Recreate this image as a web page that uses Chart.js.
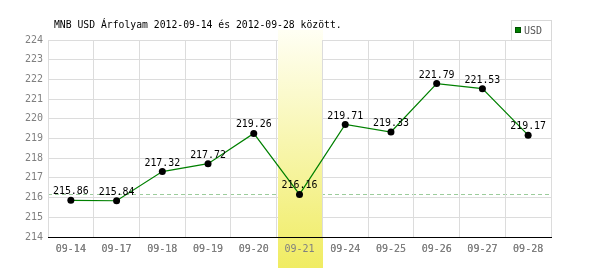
<!DOCTYPE html>
<html>
<head>
<meta charset="utf-8">
<script src="https://cdn.jsdelivr.net/npm/chart.js@4"></script>
<style>
  html, body { margin: 0; padding: 0; background: #fff; }
  #wrap { width: 600px; height: 270px; }
</style>
</head>
<body>
<div id="wrap"><canvas id="rateChart" width="600" height="270"></canvas></div>
<script>
// data
const dayLabels = ['09-14', '09-17', '09-18', '09-19', '09-20', '09-21', '09-24', '09-25', '09-26', '09-27', '09-28'];
const usdRates = [215.86, 215.84, 217.32, 217.72, 219.26, 216.16, 219.71, 219.33, 221.79, 221.53, 219.17];
const refLevel = 216.2;
const highlightIndex = 5;
const titleText = 'MNB USD Árfolyam 2012-09-14 és 2012-09-28 között.';
const seriesName = 'USD';

const tickFont = { family: 'DejaVu Sans Mono', size: 10 };

// band, dashed level line, value labels, title and legend box
const decorPlugin = {
    id: 'decor',
    beforeDatasetsDraw(chart) {
        const ctx = chart.ctx;
        const area = chart.chartArea;
        const x = chart.scales.x;
        const y = chart.scales.y;

        // dashed level line
        const ly = Math.round(y.getPixelForValue(refLevel)) + 0.5;
        ctx.save();
        ctx.strokeStyle = '#9ccc9c';
        ctx.lineWidth = 1;
        ctx.setLineDash([4, 3]);
        ctx.beginPath();
        ctx.moveTo(area.left, ly);
        ctx.lineTo(area.right, ly);
        ctx.stroke();
        ctx.restore();

        // highlighted day
        const half = (x.getPixelForValue(1) - x.getPixelForValue(0)) / 2;
        const cx = x.getPixelForValue(highlightIndex);
        const grad = ctx.createLinearGradient(0, 30, 0, 268);
        grad.addColorStop(0, '#fffff4');
        grad.addColorStop(1, '#f0ec62');
        ctx.save();
        ctx.fillStyle = grad;
        ctx.fillRect(Math.round(cx - half) + 1, 30, Math.round(2 * half) - 1, 238);
        ctx.restore();

        // put axis line and labels back on top of the band
        x.draw(area);
    },
    afterDatasetsDraw(chart) {
        const ctx = chart.ctx;
        const meta = chart.getDatasetMeta(0);
        ctx.save();
        ctx.fillStyle = '#000';
        ctx.font = '11px "DejaVu Sans Mono", monospace';
        ctx.textAlign = 'center';
        ctx.textBaseline = 'alphabetic';
        meta.data.forEach((pt, i) => {
            ctx.save();
            ctx.translate(pt.x, pt.y - 6);
            ctx.scale(0.9, 1);
            ctx.fillText(usdRates[i].toFixed(2), 0, 0);
            ctx.restore();
        });
        ctx.restore();
    },
    afterDraw(chart) {
        const ctx = chart.ctx;
        const area = chart.chartArea;

        // title
        ctx.save();
        ctx.fillStyle = '#000';
        ctx.font = '10px "DejaVu Sans Mono", monospace';
        ctx.textBaseline = 'alphabetic';
        ctx.translate(54, 28);
        ctx.scale(0.975, 1);
        ctx.fillText(titleText, 0, 0);
        ctx.restore();

        // legend box
        ctx.save();
        ctx.strokeStyle = '#d8d8d8';
        ctx.lineWidth = 1;
        ctx.strokeRect(511.5, 20.5, Math.round(area.right) - 511, area.top - 20);
        ctx.fillStyle = '#008000';
        ctx.fillRect(515, 27, 6, 6);
        ctx.strokeStyle = '#005000';
        ctx.strokeRect(515.5, 27.5, 5, 5);
        ctx.fillStyle = '#555';
        ctx.font = '10px "DejaVu Sans Mono", monospace';
        ctx.textBaseline = 'middle';
        ctx.fillText(seriesName, 524, 31);
        ctx.restore();
    }
};

new Chart(document.getElementById('rateChart'), {
    type: 'line',
    data: {
        labels: dayLabels,
        datasets: [{
            label: seriesName,
            data: usdRates,
            borderColor: '#008000',
            borderWidth: 1.2,
            tension: 0,
            fill: false,
            pointRadius: 3.5,
            pointHoverRadius: 3.5,
            pointBackgroundColor: '#000',
            pointBorderColor: '#000',
            pointBorderWidth: 0
        }]
    },
    options: {
        responsive: false,
        animation: false,
        devicePixelRatio: 1,
        events: [],
        layout: { padding: { left: 0, top: 40, right: 49, bottom: 0 } },
        plugins: {
            legend: { display: false },
            tooltip: { enabled: false }
        },
        scales: {
            x: {
                offset: true,
                afterFit: s => { s.height = 33; },
                grid: { offset: true, color: '#dcdcdc', drawTicks: false },
                border: { color: '#000', width: 1 },
                ticks: { color: '#808080', font: tickFont, padding: 6, maxRotation: 0, autoSkip: false }
            },
            y: {
                min: 214,
                max: 224,
                afterFit: s => { s.width = 48; },
                grid: { color: '#dcdcdc', drawTicks: false },
                border: { color: '#000', width: 1 },
                ticks: { stepSize: 1, color: '#808080', font: tickFont, padding: 5 }
            }
        }
    },
    plugins: [decorPlugin]
});
</script>
</body>
</html>
